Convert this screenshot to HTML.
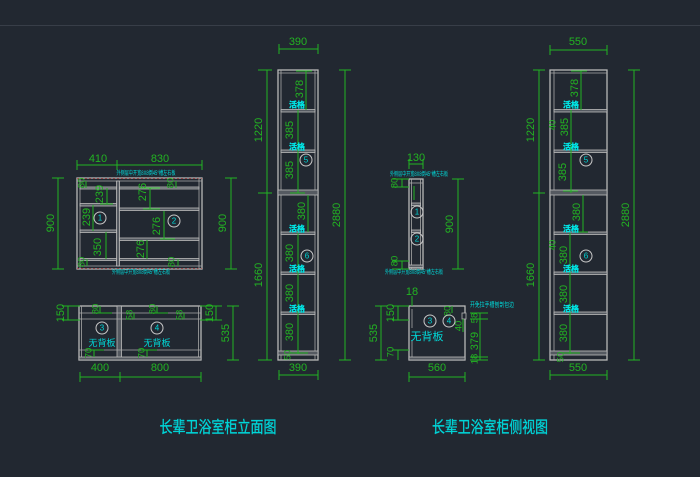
<!DOCTYPE html>
<html><head><meta charset="utf-8">
<style>
html,body{margin:0;padding:0;background:#222831;}
svg{display:block}
.g{stroke:#22b422;stroke-width:1;fill:none}
.t{fill:#22b422;font-family:"Liberation Sans",sans-serif;font-size:11px;text-anchor:middle;dominant-baseline:central}
.ts{fill:#22b422;font-family:"Liberation Sans",sans-serif;font-size:9.5px;text-anchor:middle;dominant-baseline:central}
.f{stroke:#b8b8b8;fill:none;stroke-width:1.3}
.fl{stroke:#a8a8a8;fill:none;stroke-width:0.8}
.s{fill:#555a61;stroke:#bcbcbc;stroke-width:0.8}
.c{fill:#00d8d8;font-family:"Liberation Sans","Noto Sans CJK SC",sans-serif;text-anchor:middle;dominant-baseline:central}
.ci{fill:none;stroke:#c8c8c8;stroke-width:1}
.hg{fill:#00e8e8;font-family:"Noto Sans CJK SC",sans-serif;font-size:8px;font-weight:bold;text-anchor:middle;dominant-baseline:central;stroke:#00e8e8;stroke-width:0.3}
</style></head><body>
<svg width="700" height="477" viewBox="0 0 700 477" xmlns="http://www.w3.org/2000/svg">
<rect width="700" height="477" fill="#222831"/>
<line x1="0" y1="25.5" x2="700" y2="25.5" stroke="#383e48" stroke-width="1"/>

<!-- ========== TOP-LEFT ELEVATION ========== -->
<rect class="f" x="77" y="178" width="125" height="91"/>
<line x1="77" y1="178.3" x2="202" y2="178.3" stroke="#c04040" stroke-width="0.6" stroke-dasharray="2 2"/>
<line x1="77" y1="268.7" x2="202" y2="268.7" stroke="#c04040" stroke-width="0.6" stroke-dasharray="2 2"/>
<line class="fl" x1="80" y1="178" x2="80" y2="269"/>
<line class="fl" x1="199" y1="178" x2="199" y2="269"/>
<line class="fl" x1="77" y1="181" x2="202" y2="181"/>
<line class="fl" x1="77" y1="266" x2="202" y2="266"/>
<rect class="s" x="116.5" y="181" width="3" height="85"/>
<rect class="s" x="80" y="187" width="36.5" height="2"/>
<rect class="s" x="80" y="203.5" width="36.5" height="2.5"/>
<rect class="s" x="80" y="230" width="36.5" height="2.5"/>
<rect class="s" x="80" y="258.5" width="36.5" height="2"/>
<rect class="s" x="119.5" y="187" width="79.5" height="2"/>
<rect class="s" x="119.5" y="208" width="79.5" height="2.5"/>
<rect class="s" x="119.5" y="238" width="79.5" height="2.5"/>
<rect class="s" x="119.5" y="258.5" width="79.5" height="2"/>
<!-- dims -->
<line class="g" x1="77" y1="165" x2="202" y2="165"/>
<line class="g" x1="77" y1="160" x2="77" y2="170"/>
<line class="g" x1="117" y1="160" x2="117" y2="170"/>
<line class="g" x1="202" y1="160" x2="202" y2="170"/>
<text class="t" x="98" y="159">410</text>
<text class="t" x="160" y="159">830</text>
<line class="g" x1="58" y1="178" x2="58" y2="269"/>
<line class="g" x1="52" y1="178" x2="64" y2="178"/>
<line class="g" x1="52" y1="269" x2="64" y2="269"/>
<text class="t" x="51" y="223" transform="rotate(-90 51 223)">900</text>
<line class="g" x1="231" y1="178" x2="231" y2="269"/>
<line class="g" x1="225" y1="178" x2="237" y2="178"/>
<line class="g" x1="225" y1="269" x2="237" y2="269"/>
<text class="t" x="223" y="223" transform="rotate(-90 223 223)">900</text>
<!-- inner dims -->
<line class="g" x1="86" y1="181" x2="86" y2="188"/>
<text class="ts" x="82" y="183" transform="rotate(-90 82 183)">80</text>
<line class="g" x1="107" y1="188" x2="107" y2="204"/><line class="g" x1="100" y1="204" x2="113" y2="204"/>
<text class="t" x="100" y="194" transform="rotate(-90 100 194)">239</text>
<line class="g" x1="93" y1="205" x2="93" y2="231"/>
<text class="t" x="87" y="217" transform="rotate(-90 87 217)">239</text>
<line class="g" x1="106" y1="232" x2="106" y2="259"/>
<text class="t" x="98" y="247" transform="rotate(-90 98 247)">350</text>
<line class="g" x1="87" y1="259" x2="87" y2="266"/>
<text class="ts" x="82" y="262" transform="rotate(-90 82 262)">80</text>
<line class="g" x1="150" y1="188" x2="150" y2="209"/><line class="g" x1="143" y1="209" x2="160" y2="209"/><line class="g" x1="143" y1="188" x2="160" y2="188"/>
<text class="t" x="143" y="192" transform="rotate(-90 143 192)">276</text>
<line class="g" x1="176" y1="181" x2="176" y2="188"/>
<text class="ts" x="171" y="183" transform="rotate(-90 171 183)">80</text>
<line class="g" x1="164" y1="211" x2="164" y2="239"/><line class="g" x1="160" y1="239" x2="175" y2="239"/>
<text class="t" x="157" y="226" transform="rotate(-90 157 226)">276</text>
<line class="g" x1="147" y1="240" x2="147" y2="259"/>
<text class="t" x="141" y="249" transform="rotate(-90 141 249)">276</text>
<line class="g" x1="178" y1="259" x2="178" y2="266"/>
<text class="ts" x="172" y="262" transform="rotate(-90 172 262)">80</text>
<!-- notes -->
<text class="c" x="146" y="174" font-size="6" textLength="59" lengthAdjust="spacingAndGlyphs">外侧层中开宽8X8倒45°槽左右板</text>
<text class="c" x="141" y="273" font-size="6" textLength="58" lengthAdjust="spacingAndGlyphs">外侧层中开宽8X8倒45°槽左右板</text>
<circle class="ci" cx="100" cy="218" r="6"/><text class="c" x="100" y="218" font-size="8">1</text>
<circle class="ci" cx="174" cy="221" r="6"/><text class="c" x="174" y="221" font-size="8">2</text>

<!-- ========== BOTTOM-LEFT PLAN ========== -->
<rect class="f" x="79" y="306" width="122" height="54"/>
<line class="fl" x1="81.5" y1="306" x2="81.5" y2="360"/>
<line class="fl" x1="198.5" y1="306" x2="198.5" y2="360"/>
<rect class="s" x="117" y="306" width="4.5" height="54"/>
<line class="fl" x1="79" y1="313" x2="201" y2="313"/>
<line class="fl" x1="79" y1="319" x2="201" y2="319"/>
<line class="fl" x1="79" y1="350" x2="201" y2="350"/>
<rect class="s" x="79" y="357" width="122" height="3"/>
<line class="g" x1="80" y1="377" x2="201" y2="377"/>
<line class="g" x1="80" y1="372" x2="80" y2="382"/>
<line class="g" x1="120" y1="372" x2="120" y2="382"/>
<line class="g" x1="201" y1="372" x2="201" y2="382"/>
<text class="t" x="100" y="368">400</text>
<text class="t" x="160" y="368">800</text>
<line class="g" x1="68" y1="306" x2="68" y2="320"/>
<line class="g" x1="62" y1="306" x2="80" y2="306"/><line class="g" x1="62" y1="320" x2="80" y2="320"/>
<text class="t" x="61" y="313" transform="rotate(-90 61 313)">150</text>
<line class="g" x1="216" y1="306" x2="216" y2="320"/>
<line class="g" x1="200" y1="306" x2="222" y2="306"/><line class="g" x1="200" y1="320" x2="222" y2="320"/>
<text class="t" x="210" y="313" transform="rotate(-90 210 313)">150</text>
<line class="g" x1="233" y1="306" x2="233" y2="360"/>
<line class="g" x1="227" y1="306" x2="239" y2="306"/><line class="g" x1="227" y1="360" x2="239" y2="360"/>
<text class="t" x="226" y="333" transform="rotate(-90 226 333)">535</text>
<line class="g" x1="100" y1="306" x2="100" y2="313"/><line class="g" x1="96" y1="313" x2="112" y2="313"/>
<text class="ts" x="96" y="309" transform="rotate(-90 96 309)">80</text>
<line class="g" x1="157" y1="306" x2="157" y2="313"/><line class="g" x1="152" y1="313" x2="168" y2="313"/>
<text class="ts" x="153" y="309" transform="rotate(-90 153 309)">80</text>
<text class="ts" x="130" y="315" transform="rotate(-90 130 315)">58</text>
<line class="g" x1="134" y1="313" x2="134" y2="319"/>
<text class="ts" x="180" y="315" transform="rotate(-90 180 315)">58</text>
<line class="g" x1="184" y1="313" x2="184" y2="319"/>
<line class="g" x1="94" y1="350" x2="94" y2="357"/><line class="g" x1="88" y1="350" x2="104" y2="350"/>
<text class="ts" x="89" y="353" transform="rotate(-90 89 353)">70</text>
<line class="g" x1="147" y1="350" x2="147" y2="357"/><line class="g" x1="141" y1="350" x2="157" y2="350"/>
<text class="ts" x="142" y="353" transform="rotate(-90 142 353)">70</text>
<circle class="ci" cx="102" cy="328" r="6"/><text class="c" x="102" y="328" font-size="8">3</text>
<circle class="ci" cx="157" cy="328" r="6"/><text class="c" x="157" y="328" font-size="8">4</text>
<text class="c" x="102" y="343" font-size="9">无背板</text>
<text class="c" x="157" y="343" font-size="9">无背板</text>

<!-- ========== TALL FRONT ========== -->
<rect class="f" x="278" y="70" width="40" height="290"/>
<line class="fl" x1="281" y1="70" x2="281" y2="360"/>
<line class="fl" x1="315" y1="70" x2="315" y2="360"/>
<line class="fl" x1="278" y1="73" x2="318" y2="73"/>
<rect class="s" x="281" y="109.5" width="34" height="2.5"/>
<rect class="s" x="281" y="150" width="34" height="2.5"/>
<rect class="s" x="278" y="190" width="40" height="5"/>
<rect class="s" x="281" y="232" width="34" height="2.5"/>
<rect class="s" x="281" y="272" width="34" height="2.5"/>
<rect class="s" x="281" y="312" width="34" height="2.5"/>
<rect class="s" x="278" y="351" width="40" height="4"/>
<line class="g" x1="279" y1="49" x2="318" y2="49"/>
<line class="g" x1="279" y1="44" x2="279" y2="54"/><line class="g" x1="318" y1="44" x2="318" y2="54"/>
<text class="t" x="298" y="42">390</text>
<line class="g" x1="279" y1="375" x2="318" y2="375"/>
<line class="g" x1="279" y1="370" x2="279" y2="380"/><line class="g" x1="318" y1="370" x2="318" y2="380"/>
<text class="t" x="298" y="368">390</text>
<line class="g" x1="267" y1="70" x2="267" y2="360"/>
<line class="g" x1="258" y1="70" x2="272" y2="70"/><line class="g" x1="258" y1="193" x2="272" y2="193"/><line class="g" x1="258" y1="360" x2="272" y2="360"/>
<text class="t" x="259" y="130" transform="rotate(-90 259 130)">1220</text>
<text class="t" x="259" y="275" transform="rotate(-90 259 275)">1660</text>
<line class="g" x1="345" y1="70" x2="345" y2="360"/>
<line class="g" x1="339" y1="70" x2="351" y2="70"/><line class="g" x1="339" y1="360" x2="351" y2="360"/>
<text class="t" x="337" y="215" transform="rotate(-90 337 215)">2880</text>
<line class="g" x1="306" y1="71" x2="306" y2="110"/><line class="g" x1="296" y1="71" x2="312" y2="71"/>
<line class="g" x1="298" y1="110" x2="298" y2="193"/><line class="g" x1="290" y1="193" x2="305" y2="193"/>
<line class="g" x1="308" y1="195" x2="308" y2="232"/>
<line class="g" x1="298" y1="233" x2="298" y2="354"/><line class="g" x1="290" y1="353" x2="308" y2="353"/>
<text class="t" x="300" y="89" transform="rotate(-90 300 89)">378</text>
<text class="t" x="290" y="130" transform="rotate(-90 290 130)">385</text>
<text class="t" x="290" y="170" transform="rotate(-90 290 170)">385</text>
<text class="t" x="302" y="211" transform="rotate(-90 302 211)">380</text>
<text class="t" x="290" y="253" transform="rotate(-90 290 253)">380</text>
<text class="t" x="290" y="293" transform="rotate(-90 290 293)">380</text>
<text class="t" x="290" y="332" transform="rotate(-90 290 332)">380</text>
<text class="ts" x="288" y="355" transform="rotate(-90 288 355)">50</text>
<text class="hg" x="297" y="105">活格</text>
<text class="hg" x="297" y="147">活格</text>
<text class="hg" x="297" y="229">活格</text>
<text class="hg" x="297" y="269">活格</text>
<text class="hg" x="297" y="309">活格</text>
<circle class="ci" cx="306" cy="160" r="6"/><text class="c" x="306" y="160" font-size="8">5</text>
<circle class="ci" cx="307" cy="256" r="6"/><text class="c" x="307" y="256" font-size="8">6</text>

<!-- ========== MIDDLE SIDE ========== -->
<rect class="f" x="409" y="179" width="14" height="90"/>
<line class="fl" x1="411.5" y1="179" x2="411.5" y2="269"/>
<line class="fl" x1="420.5" y1="179" x2="420.5" y2="269"/>
<line class="fl" x1="409" y1="183" x2="423" y2="183"/>
<rect class="s" x="411.5" y="203" width="9" height="2.5"/>
<rect class="s" x="411.5" y="230" width="9" height="2.5"/>
<rect class="s" x="409" y="265" width="14" height="2.5"/>
<line class="g" x1="414" y1="186" x2="414" y2="200"/>
<line class="g" x1="409" y1="164" x2="423" y2="164"/>
<line class="g" x1="409" y1="159" x2="409" y2="169"/><line class="g" x1="423" y1="159" x2="423" y2="169"/>
<text class="t" x="416" y="158">130</text>
<text class="c" x="419" y="175" font-size="6" textLength="58" lengthAdjust="spacingAndGlyphs">外侧层中开宽8X8倒45°槽左右板</text>
<text class="c" x="414" y="273" font-size="6" textLength="58" lengthAdjust="spacingAndGlyphs">外侧层中开宽8X8倒45°槽左右板</text>
<line class="g" x1="402" y1="179" x2="402" y2="187"/>
<line class="g" x1="392" y1="179" x2="409" y2="179"/><line class="g" x1="392" y1="187" x2="409" y2="187"/>
<text class="ts" x="395" y="183" transform="rotate(-90 395 183)">80</text>
<line class="g" x1="402" y1="261" x2="402" y2="269"/>
<line class="g" x1="392" y1="261" x2="409" y2="261"/><line class="g" x1="392" y1="269" x2="409" y2="269"/>
<text class="ts" x="395" y="261" transform="rotate(-90 395 261)">80</text>
<line class="g" x1="458" y1="179" x2="458" y2="269"/>
<line class="g" x1="452" y1="179" x2="464" y2="179"/><line class="g" x1="452" y1="269" x2="464" y2="269"/>
<text class="t" x="450" y="224" transform="rotate(-90 450 224)">900</text>
<circle class="ci" cx="417" cy="212" r="6"/><text class="c" x="417" y="212" font-size="8">1</text>
<circle class="ci" cx="417" cy="239" r="6"/><text class="c" x="417" y="239" font-size="8">2</text>

<!-- ========== MIDDLE BOTTOM ========== -->
<rect class="f" x="409" y="306" width="56" height="54"/>
<line class="fl" x1="412" y1="309" x2="412" y2="328"/>
<line class="fl" x1="412" y1="340" x2="412" y2="357"/>
<rect class="s" x="409" y="357" width="56" height="3"/>
<rect x="462" y="313" width="4" height="6" fill="#222831" stroke="#b4b4b4" stroke-width="0.8"/>
<text class="t" x="412" y="292" font-size="10">18</text>
<line class="g" x1="412" y1="296" x2="412" y2="306"/>
<line class="g" x1="398" y1="306" x2="398" y2="320"/>
<line class="g" x1="392" y1="306" x2="409" y2="306"/><line class="g" x1="392" y1="320" x2="409" y2="320"/>
<text class="t" x="391" y="313" transform="rotate(-90 391 313)">150</text>
<line class="g" x1="398" y1="350" x2="398" y2="360"/>
<line class="g" x1="392" y1="350" x2="409" y2="350"/>
<text class="ts" x="391" y="352" transform="rotate(-90 391 352)">70</text>
<line class="g" x1="381" y1="306" x2="381" y2="360"/>
<line class="g" x1="375" y1="306" x2="387" y2="306"/><line class="g" x1="375" y1="360" x2="387" y2="360"/>
<text class="t" x="374" y="333" transform="rotate(-90 374 333)">535</text>
<line class="g" x1="452" y1="306" x2="452" y2="313"/>
<text class="ts" x="448" y="311" transform="rotate(-90 448 311)">80</text>
<text class="ts" x="459" y="326" transform="rotate(-90 459 326)">40</text>
<line class="g" x1="463" y1="319" x2="463" y2="332"/>
<line class="g" x1="480" y1="313" x2="480" y2="360"/>
<line class="g" x1="470" y1="313" x2="488" y2="313"/>
<line class="g" x1="470" y1="319" x2="488" y2="319"/>
<line class="g" x1="470" y1="357" x2="488" y2="357"/>
<line class="g" x1="470" y1="360" x2="488" y2="360"/>
<text class="ts" x="475" y="318" transform="rotate(-90 475 318)">58</text>
<text class="t" x="475" y="341" transform="rotate(-90 475 341)">379</text>
<text class="ts" x="475" y="359" transform="rotate(-90 475 359)">18</text>
<text class="c" x="492" y="305" font-size="6.5" textLength="44" lengthAdjust="spacingAndGlyphs">开免拉手槽刨剖包边</text>
<circle class="ci" cx="430" cy="321" r="6"/><text class="c" x="430" y="321" font-size="8">3</text>
<circle class="ci" cx="449" cy="321" r="6"/><text class="c" x="449" y="321" font-size="8">4</text>
<text class="c" x="427" y="337" font-size="11">无背板</text>
<line class="g" x1="409" y1="377" x2="465" y2="377"/>
<line class="g" x1="409" y1="372" x2="409" y2="382"/><line class="g" x1="465" y1="372" x2="465" y2="382"/>
<text class="t" x="437" y="368">560</text>

<!-- ========== RIGHT TALL SIDE ========== -->
<rect class="f" x="550" y="70" width="57" height="290"/>
<line class="fl" x1="554" y1="70" x2="554" y2="360"/>
<line class="fl" x1="550" y1="73" x2="607" y2="73"/>
<rect class="s" x="554" y="109.5" width="53" height="2.5"/>
<rect class="s" x="554" y="150" width="53" height="2.5"/>
<rect class="s" x="550" y="190" width="57" height="5"/>
<rect class="s" x="554" y="232" width="53" height="2.5"/>
<rect class="s" x="554" y="272" width="53" height="2.5"/>
<rect class="s" x="554" y="312" width="53" height="2.5"/>
<rect class="s" x="550" y="351" width="57" height="4"/>
<line class="g" x1="550" y1="50" x2="607" y2="50"/>
<line class="g" x1="550" y1="45" x2="550" y2="55"/><line class="g" x1="607" y1="45" x2="607" y2="55"/>
<text class="t" x="578" y="42">550</text>
<line class="g" x1="550" y1="375" x2="607" y2="375"/>
<line class="g" x1="550" y1="370" x2="550" y2="380"/><line class="g" x1="607" y1="370" x2="607" y2="380"/>
<text class="t" x="578" y="368">550</text>
<line class="g" x1="539" y1="70" x2="539" y2="360"/>
<line class="g" x1="533" y1="70" x2="545" y2="70"/><line class="g" x1="533" y1="193" x2="545" y2="193"/><line class="g" x1="533" y1="360" x2="545" y2="360"/>
<text class="t" x="531" y="130" transform="rotate(-90 531 130)">1220</text>
<text class="t" x="531" y="275" transform="rotate(-90 531 275)">1660</text>
<line class="g" x1="634" y1="70" x2="634" y2="360"/>
<line class="g" x1="628" y1="70" x2="640" y2="70"/><line class="g" x1="628" y1="360" x2="640" y2="360"/>
<text class="t" x="626" y="215" transform="rotate(-90 626 215)">2880</text>
<line class="g" x1="581" y1="71" x2="581" y2="110"/><line class="g" x1="571" y1="71" x2="587" y2="71"/>
<line class="g" x1="571" y1="110" x2="571" y2="193"/><line class="g" x1="563" y1="191" x2="578" y2="191"/>
<line class="g" x1="583" y1="195" x2="583" y2="232"/><line class="g" x1="576" y1="232" x2="588" y2="232"/>
<line class="g" x1="570" y1="233" x2="570" y2="354"/><line class="g" x1="562" y1="353" x2="580" y2="353"/>
<text class="t" x="575" y="88" transform="rotate(-90 575 88)">378</text>
<text class="t" x="565" y="127" transform="rotate(-90 565 127)">385</text>
<text class="t" x="563" y="172" transform="rotate(-90 563 172)">385</text>
<text class="t" x="577" y="212" transform="rotate(-90 577 212)">380</text>
<text class="t" x="564" y="255" transform="rotate(-90 564 255)">380</text>
<text class="t" x="564" y="294" transform="rotate(-90 564 294)">380</text>
<text class="t" x="564" y="333" transform="rotate(-90 564 333)">380</text>
<text class="ts" x="561" y="357" transform="rotate(-90 561 357)">50</text>
<text class="ts" x="553" y="125" transform="rotate(-90 553 125)">40</text>
<text class="ts" x="553" y="245" transform="rotate(-90 553 245)">40</text>
<text class="hg" x="571" y="105">活格</text>
<text class="hg" x="571" y="147">活格</text>
<text class="hg" x="571" y="229">活格</text>
<text class="hg" x="571" y="269">活格</text>
<text class="hg" x="571" y="309">活格</text>
<circle class="ci" cx="586" cy="160" r="6"/><text class="c" x="586" y="160" font-size="8">5</text>
<circle class="ci" cx="586" cy="256" r="6"/><text class="c" x="586" y="256" font-size="8">6</text>

<!-- ========== TITLES ========== -->
<text class="c" x="218" y="428" font-size="16" textLength="117" lengthAdjust="spacingAndGlyphs" fill="#00c8d0" stroke="#00c8d0" stroke-width="0.35">长辈卫浴室柜立面图</text>
<text class="c" x="490" y="428" font-size="16" textLength="116" lengthAdjust="spacingAndGlyphs" fill="#00c8d0" stroke="#00c8d0" stroke-width="0.35">长辈卫浴室柜侧视图</text>
</svg>
</body></html>
